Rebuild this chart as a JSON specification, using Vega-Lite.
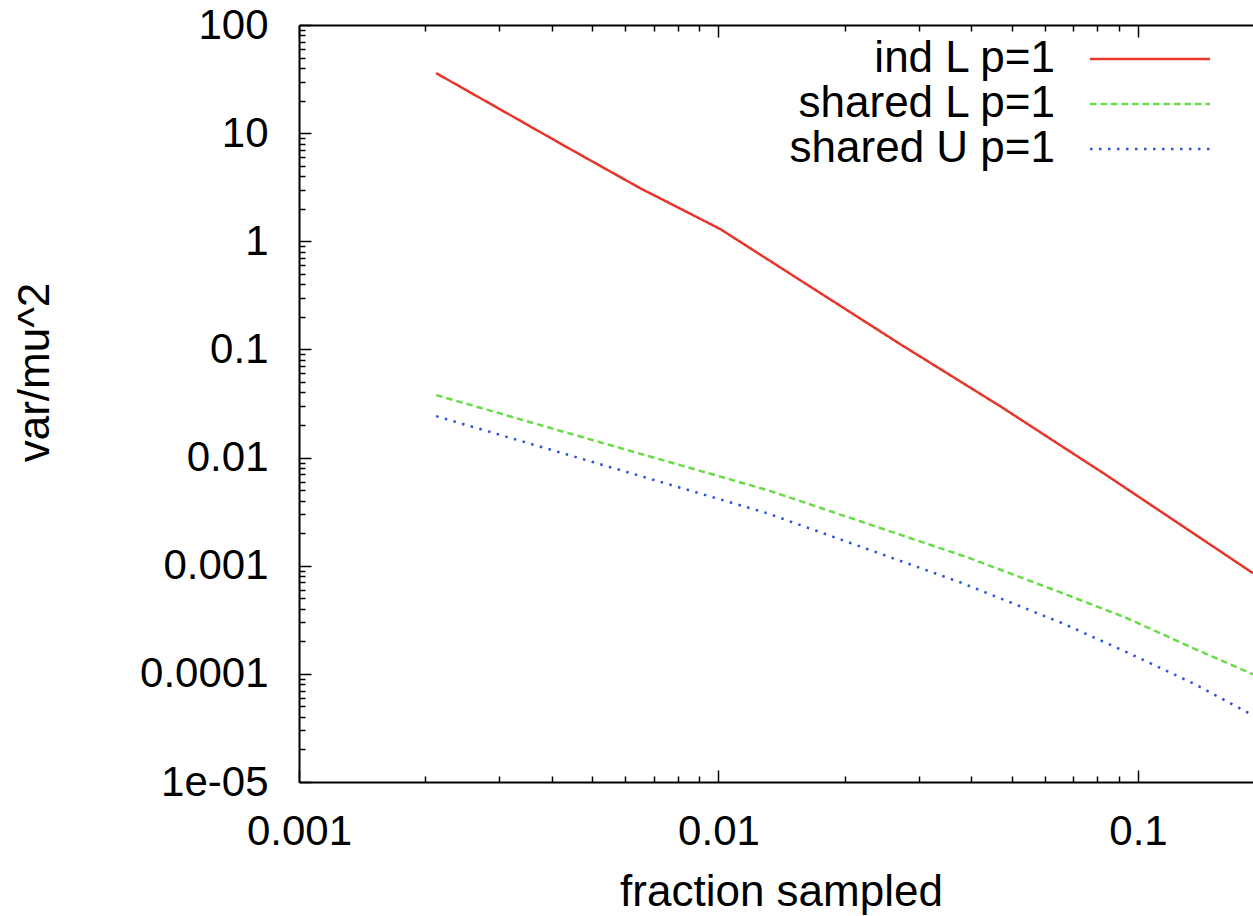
{
  "$schema": "https://vega.github.io/schema/vega-lite/v6.json",
  "width": 954,
  "height": 757,
  "autosize": {"type": "none"},
  "padding": {"left": 299, "top": 25, "right": 0, "bottom": 134},
  "background": "white",
  "config": {
    "view": {"stroke": null},
    "axis": {"labelFont": "Liberation Sans", "titleFont": "Liberation Sans", "labelColor": "black", "titleColor": "black", "tickColor": "black", "domainColor": "black", "grid": false, "titleFontWeight": "normal"}
  },
  "data": {"values": [
    {"series": "ind L p=1", "x": 0.002123, "y": 35.9},
    {"series": "ind L p=1", "x": 0.00443, "y": 7.13},
    {"series": "ind L p=1", "x": 0.0065, "y": 3.10},
    {"series": "ind L p=1", "x": 0.01009, "y": 1.30},
    {"series": "ind L p=1", "x": 0.0271, "y": 0.112},
    {"series": "ind L p=1", "x": 0.0469, "y": 0.0299},
    {"series": "ind L p=1", "x": 0.0834, "y": 0.00702},
    {"series": "ind L p=1", "x": 0.188, "y": 0.000853},
    {"series": "shared L p=1", "x": 0.002123, "y": 0.0378},
    {"series": "shared L p=1", "x": 0.00522, "y": 0.01386},
    {"series": "shared L p=1", "x": 0.01312, "y": 0.00499},
    {"series": "shared L p=1", "x": 0.0391, "y": 0.0012},
    {"series": "shared L p=1", "x": 0.0652, "y": 0.000569},
    {"series": "shared L p=1", "x": 0.0942, "y": 0.000327},
    {"series": "shared L p=1", "x": 0.1353, "y": 0.000173},
    {"series": "shared L p=1", "x": 0.188, "y": 0.000099},
    {"series": "shared U p=1", "x": 0.002123, "y": 0.02415},
    {"series": "shared U p=1", "x": 0.00522, "y": 0.00869},
    {"series": "shared U p=1", "x": 0.01306, "y": 0.00306},
    {"series": "shared U p=1", "x": 0.03765, "y": 0.000703},
    {"series": "shared U p=1", "x": 0.0652, "y": 0.0003},
    {"series": "shared U p=1", "x": 0.0942, "y": 0.000158},
    {"series": "shared U p=1", "x": 0.1353, "y": 0.0000818},
    {"series": "shared U p=1", "x": 0.188, "y": 0.0000414}
  ]},
  "layer": [
    {
      "mark": {"type": "line", "strokeWidth": 2.5, "clip": true},
      "encoding": {
        "x": {"field": "x", "type": "quantitative", "scale": {"type": "log", "domain": [0.001, 0.188], "nice": false},
          "axis": {"orient": "bottom", "values": [0.001, 0.01, 0.1], "ticks": false, "domain": true, "domainWidth": 2, "labelFontSize": 42, "labelPadding": 62, "labelBaseline": "alphabetic", "labelExpr": "format(datum.value, '.4~f')", "labelFlush": false, "labelOverlap": false, "title": "fraction sampled", "titleFontSize": 44, "titleX": 482, "titleY": 123, "titleBaseline": "alphabetic", "titleAlign": "center"}},
        "y": {"field": "y", "type": "quantitative", "scale": {"type": "log", "domain": [0.00001, 100], "nice": false},
          "axis": {"orient": "left", "values": [0.00001, 0.0001, 0.001, 0.01, 0.1, 1, 10, 100], "ticks": false, "domain": true, "domainWidth": 2, "labelFontSize": 42, "labelPadding": 31, "labelBaseline": "middle", "labelExpr": "datum.value < 0.00005 ? '1e-05' : format(datum.value, '.4~f')", "labelFlush": false, "labelOverlap": false, "title": "var/mu^2", "titleFontSize": 44, "titleX": -251, "titleY": 347, "titleAngle": -90, "titleBaseline": "alphabetic", "titleAlign": "center"}},
        "color": {"field": "series", "type": "nominal", "title": null,
          "scale": {"domain": ["ind L p=1", "shared L p=1", "shared U p=1"], "range": ["#e8352a", "#68dc48", "#2d52d6"]},
          "legend": {"orient": "none", "legendX": 756, "legendY": 12, "direction": "vertical", "labelFont": "Liberation Sans", "labelFontSize": 44, "labelColor": "black", "labelLimit": 500, "symbolType": "M-6,0H6", "symbolSize": 400, "symbolStrokeWidth": 2.5, "rowPadding": 1, "padding": 0,
            "encode": {"labels": {"update": {"x": {"value": 0}, "align": {"value": "right"}}}, "symbols": {"update": {"x": {"value": 95}}}}}},
        "strokeDash": {"field": "series", "type": "nominal", "title": null,
          "scale": {"domain": ["ind L p=1", "shared L p=1", "shared U p=1"], "range": [[1, 0], [6.5, 4], [2.5, 6.5]]},
          "legend": {"orient": "none", "legendX": 756, "legendY": 12, "direction": "vertical", "labelFont": "Liberation Sans", "labelFontSize": 44, "labelColor": "black", "labelLimit": 500, "symbolType": "M-6,0H6", "symbolSize": 400, "symbolStrokeWidth": 2.5, "rowPadding": 1, "padding": 0,
            "encode": {"labels": {"update": {"x": {"value": 0}, "align": {"value": "right"}}}, "symbols": {"update": {"x": {"value": 95}}}}}}
      }
    },
    {
      "mark": {"type": "line", "opacity": 0},
      "encoding": {
        "x": {"field": "x", "type": "quantitative", "scale": {"type": "log", "domain": [0.001, 0.188], "nice": false},
          "axis": {"orient": "bottom", "values": [0.001, 0.01, 0.1], "tickSize": -12, "tickWidth": 1.5, "labels": false, "domain": false, "title": null}},
        "y": {"field": "y", "type": "quantitative", "scale": {"type": "log", "domain": [0.00001, 100], "nice": false},
          "axis": {"orient": "left", "values": [0.00001, 0.0001, 0.001, 0.01, 0.1, 1, 10, 100], "tickSize": -12, "tickWidth": 1.5, "labels": false, "domain": false, "title": null}}
      }
    },
    {
      "mark": {"type": "line", "opacity": 0},
      "encoding": {
        "x": {"field": "x", "type": "quantitative", "scale": {"type": "log", "domain": [0.001, 0.188], "nice": false},
          "axis": {"orient": "bottom", "values": [0.002, 0.003, 0.004, 0.005, 0.006, 0.007, 0.008, 0.009, 0.02, 0.03, 0.04, 0.05, 0.06, 0.07, 0.08, 0.09], "tickSize": -6, "tickWidth": 1.5, "labels": false, "domain": false, "title": null}},
        "y": {"field": "y", "type": "quantitative", "scale": {"type": "log", "domain": [0.00001, 100], "nice": false},
          "axis": {"orient": "left", "values": [0.00002, 0.00003, 0.00004, 0.00005, 0.00006, 0.00007, 0.00008, 0.00009, 0.0002, 0.0003, 0.0004, 0.0005, 0.0006, 0.0007, 0.0008, 0.0009, 0.002, 0.003, 0.004, 0.005, 0.006, 0.007, 0.008, 0.009, 0.02, 0.03, 0.04, 0.05, 0.06, 0.07, 0.08, 0.09, 0.2, 0.3, 0.4, 0.5, 0.6, 0.7, 0.8, 0.9, 2, 3, 4, 5, 6, 7, 8, 9, 20, 30, 40, 50, 60, 70, 80, 90], "tickSize": -6, "tickWidth": 1.5, "labels": false, "domain": false, "title": null}}
      }
    },
    {
      "mark": {"type": "line", "opacity": 0},
      "encoding": {
        "x": {"field": "x", "type": "quantitative", "scale": {"type": "log", "domain": [0.001, 0.188], "nice": false},
          "axis": {"orient": "top", "values": [0.001, 0.01, 0.1], "tickSize": -12, "tickWidth": 1.5, "labels": false, "domain": true, "domainWidth": 2, "title": null}},
        "y": {"field": "y", "type": "quantitative", "scale": {"type": "log", "domain": [0.00001, 100], "nice": false}, "axis": null}
      }
    },
    {
      "mark": {"type": "line", "opacity": 0},
      "encoding": {
        "x": {"field": "x", "type": "quantitative", "scale": {"type": "log", "domain": [0.001, 0.188], "nice": false},
          "axis": {"orient": "top", "values": [0.002, 0.003, 0.004, 0.005, 0.006, 0.007, 0.008, 0.009, 0.02, 0.03, 0.04, 0.05, 0.06, 0.07, 0.08, 0.09], "tickSize": -6, "tickWidth": 1.5, "labels": false, "domain": false, "title": null}},
        "y": {"field": "y", "type": "quantitative", "scale": {"type": "log", "domain": [0.00001, 100], "nice": false}, "axis": null}
      }
    }
  ],
  "resolve": {"axis": {"x": "independent", "y": "independent"}}
}
